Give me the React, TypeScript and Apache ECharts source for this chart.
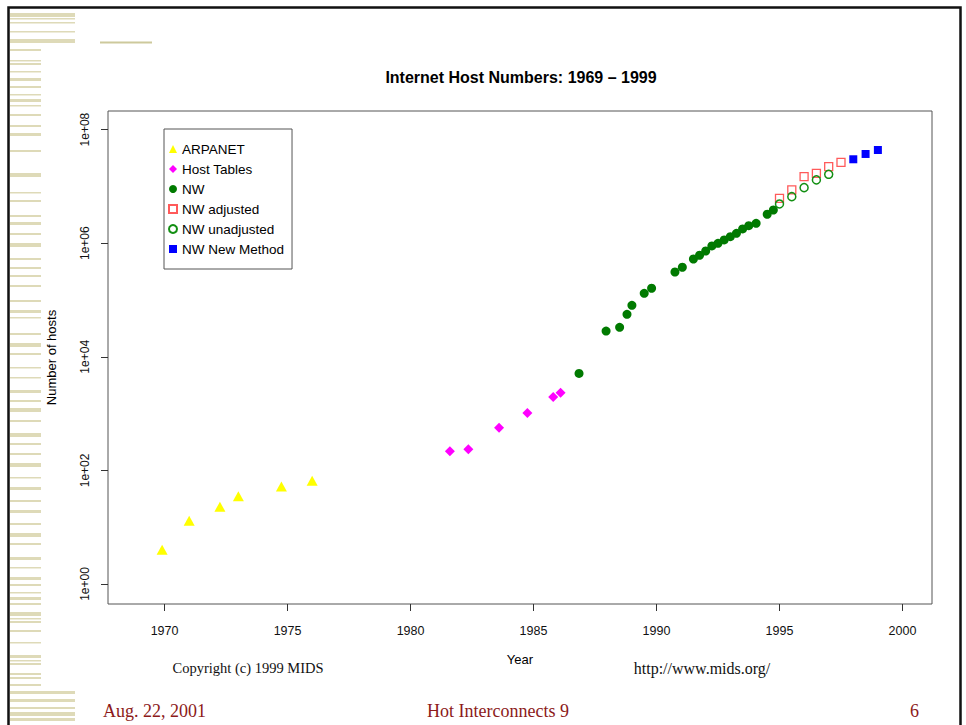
import React, { useEffect, useRef } from "react";
import * as echarts from "echarts";

// ---- data ----
const seriesNames = ["ARPANET", "Host Tables", "NW", "NW adjusted", "NW unadjusted", "NW New Method"];

const arpanetYears = [1969.9, 1971.0, 1972.25, 1973.0, 1974.75, 1976.0];
const arpanetHosts = [4, 13, 23, 35, 52, 66];

const hostTableYears = [1981.6, 1982.35, 1983.6, 1984.75, 1985.8, 1986.1];
const hostTableHosts = [217, 235, 565, 1025, 1960, 2330];

const nwYears = [1986.85, 1987.95, 1988.5, 1988.8, 1989.0, 1989.5, 1989.8, 1990.75, 1991.05, 1991.5, 1991.75, 1992.0, 1992.25, 1992.5, 1992.75, 1993.0, 1993.25, 1993.5, 1993.75, 1994.05, 1994.5, 1994.75];
const nwHosts = [5100, 28400, 33000, 56000, 80500, 131000, 161000, 311000, 377000, 527000, 613000, 729000, 893000, 996000, 1140000, 1300000, 1490000, 1780000, 2030000, 2240000, 3230000, 3840000];

const adjustedYears = [1995.0, 1995.5, 1996.0, 1996.5, 1997.0, 1997.5];
const adjustedHosts = [6170000, 8650000, 14800000, 17000000, 22200000, 26500000];

const unadjustedYears = [1995.0, 1995.5, 1996.0, 1996.5, 1997.0];
const unadjustedHosts = [4900000, 6590000, 9500000, 13000000, 16300000];

const newMethodYears = [1998.0, 1998.5, 1999.0];
const newMethodHosts = [30000000, 37200000, 43700000];

const xTickYears = [1970, 1975, 1980, 1985, 1990, 1995, 2000];
const yTickExponents = [0, 2, 4, 6, 8];

const titleText = "Internet Host Numbers: 1969 \u2013 1999";
const xAxisTitle = "Year";
const yAxisTitle = "Number of hosts";
const copyrightText = "Copyright (c) 1999 MIDS";
const urlText = "http://www.mids.org/";
const footerLeft = "Aug. 22, 2001";
const footerCenter = "Hot Interconnects 9";
const footerRight = "6";

// decorative slide stripes [y, height]
const wideStripes = [[13, 4], [18, 1.5], [22, 1.5], [31, 1.5], [39, 4], [691, 3], [699, 3], [707, 2], [712, 4], [718, 3]];
const narrowStripes = [[49, 2], [60, 1.5], [63, 2], [71, 1.5], [78, 3], [86, 2], [94, 1.5], [99, 3], [105, 1.5], [114, 2], [125, 2], [133, 3], [150, 2], [173, 4], [192, 1.5], [200, 2], [215, 2], [222, 3], [233, 2], [243, 4], [258, 2], [267, 2], [275, 2], [285, 2], [300, 2], [310, 3], [317, 1.5], [333, 2], [343, 4], [353, 2], [367, 1.5], [377, 1.5], [390, 3], [400, 2], [408, 4], [420, 2], [433, 4], [443, 2], [453, 2], [463, 4], [477, 1.5], [487, 3], [500, 2], [510, 3], [523, 2], [533, 4], [543, 2], [557, 3], [567, 1.5], [577, 3], [584, 2], [592, 1.5], [597, 3], [603, 2], [612, 4], [618, 1.5], [621, 2], [630, 2], [642, 1.5], [655, 3], [660, 1.5], [663, 2], [673, 2], [677, 2], [684, 2]];

const SANS = '"Liberation Sans", Arial, Helvetica, sans-serif';
const SERIF = '"Liberation Serif", "Times New Roman", serif';

function pts(xs: number[], ys: number[]) {
  return xs.map((x, i) => [x, Math.log10(ys[i])]);
}

function txt(text: string, x: number, y: number, font: string, fill: string, align = "center") {
  return {
    type: "text",
    x,
    y,
    silent: true,
    style: { text, font, fill, align, textAlign: align, verticalAlign: "middle", textVerticalAlign: "middle" },
  };
}

export default function App() {
  const ref = useRef<HTMLDivElement>(null);

  useEffect(() => {
    if (!ref.current) return;
    const chart = echarts.init(ref.current, null, { renderer: "svg" });

    const stripeColor = "#dedab8";
    const graphics: any[] = [];
    wideStripes.forEach(([y, h]) =>
      graphics.push({ type: "rect", silent: true, shape: { x: 10, y, width: 65, height: h }, style: { fill: stripeColor } })
    );
    narrowStripes.forEach(([y, h]) =>
      graphics.push({ type: "rect", silent: true, shape: { x: 10, y, width: 31, height: h }, style: { fill: stripeColor } })
    );
    graphics.push({ type: "rect", silent: true, shape: { x: 100, y: 41.5, width: 52, height: 2 }, style: { fill: "#cdc99c" } });
    graphics.push({ type: "rect", silent: true, shape: { x: 8.5, y: 7.5, width: 952, height: 760 }, style: { fill: "none", stroke: "#111", lineWidth: 2.5 } });
    graphics.push(txt(titleText, 521, 77, `bold 16px ${SANS}`, "#000"));
    graphics.push(txt(copyrightText, 248, 668, `14.5px ${SERIF}`, "#111"));
    graphics.push(txt(urlText, 702, 668, `16px ${SERIF}`, "#111"));
    graphics.push(txt(footerLeft, 103, 711, `18px ${SERIF}`, "#8c1a1a", "left"));
    graphics.push(txt(footerCenter, 498, 711, `18px ${SERIF}`, "#8c1a1a"));
    graphics.push(txt(footerRight, 919, 711, `18px ${SERIF}`, "#8c1a1a", "right"));

    const seriesDefs = [
      { name: seriesNames[0], data: pts(arpanetYears, arpanetHosts), symbol: "triangle", symbolSize: [11, 10], itemStyle: { color: "#ffff00", opacity: 1 } },
      { name: seriesNames[1], data: pts(hostTableYears, hostTableHosts), symbol: "diamond", symbolSize: [10, 10], itemStyle: { color: "#ff00ff", opacity: 1 } },
      { name: seriesNames[2], data: pts(nwYears, nwHosts), symbol: "circle", symbolSize: 9, itemStyle: { color: "#007a00", opacity: 1 } },
      { name: seriesNames[3], data: pts(adjustedYears, adjustedHosts), symbol: "rect", symbolSize: 8, itemStyle: { color: "rgba(255,255,255,0)", borderColor: "#ff5a5a", borderWidth: 1.3, opacity: 1 } },
      { name: seriesNames[4], data: pts(unadjustedYears, unadjustedHosts), symbol: "circle", symbolSize: 8, itemStyle: { color: "rgba(255,255,255,0)", borderColor: "#138f13", borderWidth: 1.5, opacity: 1 } },
      { name: seriesNames[5], data: pts(newMethodYears, newMethodHosts), symbol: "rect", symbolSize: 8, itemStyle: { color: "#0000ff", opacity: 1 } },
    ];

    chart.setOption({
      animation: false,
      backgroundColor: "#ffffff",
      textStyle: { fontFamily: SANS },
      grid: { left: 108, top: 111, width: 824, height: 493, show: true, borderColor: "#555", borderWidth: 1, backgroundColor: "transparent" },
      legend: {
        orient: "vertical",
        left: 164,
        top: 129,
        padding: [13, 8, 13, 4],
        itemGap: 6,
        itemWidth: 8,
        itemHeight: 8,
        backgroundColor: "#fff",
        borderColor: "#555",
        borderWidth: 1,
        borderRadius: 0,
        selectedMode: false,
        textStyle: { fontSize: 13.5, color: "#000", fontFamily: SANS },
        data: seriesNames,
      },
      xAxis: {
        type: "value",
        min: 1967.7,
        max: 2001.2,
        name: xAxisTitle,
        nameLocation: "middle",
        nameGap: 49,
        nameTextStyle: { fontSize: 13, color: "#000", fontFamily: SANS },
        axisLine: { show: false, onZero: false },
        splitLine: { show: false },
        axisTick: { show: true, length: 7, customValues: xTickYears, lineStyle: { color: "#333" } },
        axisLabel: {
          customValues: xTickYears,
          margin: 20,
          fontSize: 12.5,
          color: "#111",
          fontFamily: SANS,
          formatter: (v: number) => String(Math.round(v)),
        },
      },
      yAxis: {
        type: "value",
        min: -0.352,
        max: 8.327,
        name: yAxisTitle,
        nameLocation: "middle",
        nameGap: 50,
        nameTextStyle: { fontSize: 13, color: "#000", fontFamily: SANS },
        axisLine: { show: false, onZero: false },
        splitLine: { show: false },
        axisTick: { show: true, length: 7, customValues: yTickExponents, lineStyle: { color: "#333" } },
        axisLabel: {
          customValues: yTickExponents,
          rotate: 90,
          margin: 17,
          fontSize: 12,
          color: "#111",
          fontFamily: SANS,
          formatter: (v: number) => "1e+" + String(Math.round(v)).padStart(2, "0"),
        },
      },
      series: seriesDefs.map((s) => ({ type: "scatter", ...s, emphasis: { disabled: true } })),
      graphic: graphics,
    });

    return () => chart.dispose();
  }, []);

  return (
    <div
      ref={ref}
      style={{ position: "absolute", left: 0, top: 0, width: 966, height: 725, background: "#fff" }}
    />
  );
}
